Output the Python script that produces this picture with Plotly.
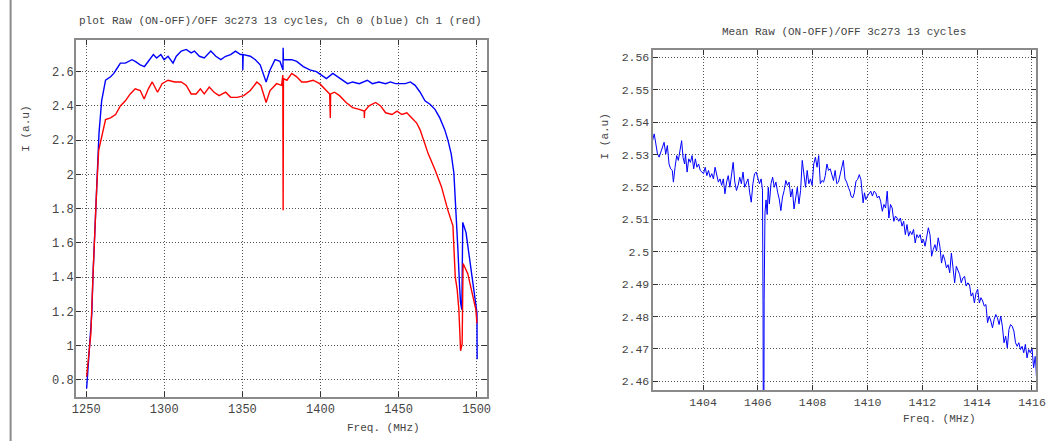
import plotly.graph_objects as go

# ---------------- Left panel: Ch 0 (blue) and Ch 1 (red) ----------------
CH0_FREQ = [1250.3, 1251.9, 1253.6, 1254.4, 1255.5, 1256.6, 1257.4, 1258.2, 1259.9, 1262.4,
            1265.6, 1267.7, 1269.8, 1271.9, 1275.1, 1277.2, 1279.3, 1281.4, 1284.6, 1287.3,
            1289.8, 1293.0, 1295.1, 1297.8, 1299.9, 1302.4, 1305.6, 1307.7, 1310.9, 1314.1,
            1317.2, 1319.3, 1322.5, 1325.6, 1329.8, 1333.0, 1336.2, 1339.3, 1342.5, 1345.6,
            1348.8, 1350.2, 1350.3, 1350.5, 1355.1, 1358.3, 1361.4, 1363.5, 1365.2, 1367.7,
            1370.9, 1374.1, 1376.0, 1376.1, 1376.3, 1378.5, 1381.6, 1384.8, 1389.0, 1393.2,
            1397.4, 1400.6, 1403.8, 1407.9, 1411.1, 1414.2, 1417.4, 1420.6, 1424.8, 1430.0,
            1433.2, 1437.4, 1441.7, 1444.8, 1448.0, 1451.1, 1454.3, 1457.5, 1460.6, 1463.8,
            1466.9, 1470.1, 1473.3, 1476.4, 1479.6, 1481.6, 1483.7, 1485.4, 1486.9, 1488.0,
            1489.1, 1489.7, 1490.5, 1491.1, 1493.2, 1495.4, 1497.4, 1498.9, 1500.2, 1500.3]
CH0_VAL = [0.75, 0.96, 1.19, 1.42, 1.66, 1.91, 2.07, 2.24, 2.43, 2.55,
           2.57, 2.59, 2.62, 2.65, 2.65, 2.66, 2.67, 2.66, 2.64, 2.63,
           2.66, 2.70, 2.68, 2.70, 2.67, 2.69, 2.65, 2.69, 2.72, 2.73,
           2.71, 2.72, 2.69, 2.68, 2.72, 2.69, 2.67, 2.69, 2.70, 2.72,
           2.70, 2.70, 2.61, 2.70, 2.69, 2.67, 2.64, 2.59, 2.54, 2.61,
           2.67, 2.66, 2.61, 2.74, 2.67, 2.67, 2.67, 2.66, 2.63, 2.61,
           2.60, 2.58, 2.56, 2.59, 2.57, 2.55, 2.53, 2.54, 2.53, 2.55,
           2.53, 2.54, 2.53, 2.54, 2.53, 2.53, 2.53, 2.54, 2.52, 2.48,
           2.43, 2.41, 2.38, 2.33, 2.26, 2.20, 2.12, 2.01, 1.79, 1.56,
           1.34, 1.25, 1.21, 1.72, 1.66, 1.52, 1.38, 1.27, 1.19, 0.92]

CH1_FREQ = [1250.3, 1253.0, 1254.4, 1255.7, 1256.8, 1258.0, 1259.9, 1262.4, 1265.6, 1268.8,
            1271.9, 1275.1, 1278.2, 1281.4, 1284.6, 1287.1, 1289.8, 1292.3, 1295.7, 1298.6,
            1302.4, 1306.7, 1310.9, 1314.1, 1317.2, 1320.4, 1323.1, 1325.6, 1328.8, 1331.9,
            1335.1, 1339.3, 1342.5, 1346.7, 1350.9, 1355.1, 1359.3, 1361.8, 1365.2, 1367.7,
            1371.9, 1375.1, 1375.9, 1376.1, 1376.3, 1378.5, 1381.6, 1384.8, 1388.0, 1391.1,
            1395.3, 1399.5, 1403.8, 1405.9, 1406.3, 1406.5, 1409.0, 1412.2, 1416.4, 1420.6,
            1424.8, 1428.0, 1428.1, 1428.3, 1431.1, 1435.3, 1438.5, 1441.7, 1445.8, 1449.0,
            1452.1, 1455.3, 1458.5, 1461.6, 1463.8, 1469.0, 1473.2, 1477.4, 1481.6, 1484.8,
            1486.3, 1487.5, 1488.6, 1489.7, 1490.7, 1491.3, 1494.3, 1497.4, 1499.5, 1500.2]
CH1_VAL = [0.82, 1.07, 1.42, 1.75, 1.93, 2.14, 2.22, 2.32, 2.33, 2.35,
           2.40, 2.43, 2.47, 2.50, 2.49, 2.44, 2.50, 2.54, 2.48, 2.53,
           2.55, 2.54, 2.54, 2.52, 2.47, 2.47, 2.50, 2.47, 2.51, 2.48,
           2.46, 2.48, 2.45, 2.45, 2.46, 2.49, 2.54, 2.52, 2.42, 2.49,
           2.53, 2.52, 2.58, 1.79, 2.56, 2.55, 2.59, 2.57, 2.54, 2.54,
           2.55, 2.53, 2.49, 2.47, 2.33, 2.47, 2.48, 2.46, 2.42, 2.39,
           2.38, 2.37, 2.33, 2.37, 2.40, 2.42, 2.40, 2.36, 2.35, 2.37,
           2.35, 2.36, 2.33, 2.30, 2.26, 2.12, 2.03, 1.93, 1.79, 1.70,
           1.40, 1.33, 1.21, 0.97, 1.01, 1.48, 1.42, 1.29, 1.21, 1.13]

LEFT_XTICKS = [1250, 1300, 1350, 1400, 1450, 1500]
LEFT_YTICKS = [0.8, 1.0, 1.2, 1.4, 1.6, 1.8, 2.0, 2.2, 2.4, 2.6]

# ---------------- Right panel: mean spectrum ----------------
MEAN_FREQ = [
    1402.16, 1402.22, 1402.28, 1402.34, 1402.40, 1402.46, 1402.52, 1402.58, 1402.64, 1402.70,
    1402.76, 1402.82, 1402.88, 1402.92, 1402.98, 1403.04, 1403.10, 1403.16, 1403.22, 1403.27,
    1403.33, 1403.36, 1403.42, 1403.48, 1403.54, 1403.60, 1403.66, 1403.72, 1403.78, 1403.84,
    1403.90, 1403.96, 1404.02, 1404.08, 1404.14, 1404.20, 1404.26, 1404.32, 1404.38, 1404.44,
    1404.50, 1404.56, 1404.62, 1404.68, 1404.74, 1404.80, 1404.86, 1404.92, 1404.98, 1405.04,
    1405.10, 1405.16, 1405.22, 1405.28, 1405.34, 1405.40, 1405.46, 1405.52, 1405.58, 1405.64,
    1405.70, 1405.76, 1405.82, 1405.88, 1405.94, 1406.00, 1406.06, 1406.12, 1406.17, 1406.19,
    1406.21, 1406.23, 1406.26, 1406.30, 1406.34, 1406.38, 1406.42, 1406.48, 1406.54, 1406.60,
    1406.66, 1406.72, 1406.78, 1406.84, 1406.90, 1406.96, 1407.02, 1407.08, 1407.14, 1407.20,
    1407.26, 1407.32, 1407.38, 1407.44, 1407.50, 1407.56, 1407.62, 1407.68, 1407.74, 1407.80,
    1407.86, 1407.92, 1407.98, 1408.04, 1408.10, 1408.16, 1408.22, 1408.28, 1408.34, 1408.40,
    1408.46, 1408.52, 1408.58, 1408.64, 1408.70, 1408.76, 1408.82, 1408.88, 1408.94, 1409.00,
    1409.06, 1409.12, 1409.18, 1409.24, 1409.30, 1409.36, 1409.40, 1409.46, 1409.52, 1409.58,
    1409.64, 1409.70, 1409.76, 1409.80, 1409.84, 1409.89, 1409.94, 1410.00, 1410.06, 1410.12,
    1410.18, 1410.24, 1410.30, 1410.36, 1410.42, 1410.48, 1410.54, 1410.60, 1410.66, 1410.72,
    1410.78, 1410.84, 1410.90, 1410.96, 1411.02, 1411.08, 1411.14, 1411.20, 1411.26, 1411.32,
    1411.38, 1411.44, 1411.50, 1411.56, 1411.62, 1411.68, 1411.74, 1411.80, 1411.86, 1411.92,
    1411.98, 1412.04, 1412.10, 1412.16, 1412.22, 1412.28, 1412.34, 1412.40, 1412.46, 1412.52,
    1412.58, 1412.64, 1412.70, 1412.76, 1412.82, 1412.88, 1412.94, 1413.00, 1413.06, 1413.12,
    1413.18, 1413.24, 1413.30, 1413.36, 1413.42, 1413.48, 1413.54, 1413.60, 1413.66, 1413.72,
    1413.78, 1413.84, 1413.90, 1413.96, 1414.02, 1414.08, 1414.14, 1414.20, 1414.26, 1414.32,
    1414.38, 1414.44, 1414.50, 1414.56, 1414.62, 1414.68, 1414.74, 1414.80, 1414.86, 1414.92,
    1414.98, 1415.04, 1415.10, 1415.16, 1415.22, 1415.28, 1415.34, 1415.40, 1415.46, 1415.52,
    1415.58, 1415.64, 1415.70, 1415.76, 1415.82, 1415.88, 1415.94, 1416.00, 1416.06, 1416.12,
    1416.16]
MEAN_VAL = [
    2.5343, 2.5364, 2.5333, 2.5302, 2.5292, 2.5307, 2.5323, 2.5338, 2.5302, 2.5328,
    2.5271, 2.5256, 2.5251, 2.5215, 2.5261, 2.5297, 2.5282, 2.5312, 2.5343, 2.5292,
    2.5271, 2.5302, 2.5246, 2.5287, 2.5276, 2.5297, 2.5256, 2.5287, 2.5261, 2.5271,
    2.5251, 2.5246, 2.5241, 2.5261, 2.5235, 2.5251, 2.5230, 2.5241, 2.5225, 2.5261,
    2.5235, 2.5215, 2.5225, 2.5205, 2.5225, 2.5179, 2.5215, 2.5235, 2.5199, 2.5235,
    2.5276, 2.5215, 2.5189, 2.5205, 2.5230, 2.5210, 2.5246, 2.5199, 2.5215, 2.5225,
    2.5184, 2.5153, 2.5210, 2.5241, 2.5246, 2.5225, 2.5210, 2.5225, 2.5190, 2.4820,
    2.4000, 2.4850, 2.5120, 2.5160, 2.5115, 2.5199, 2.5148, 2.5210, 2.5230, 2.5199,
    2.5215, 2.5184, 2.5163, 2.5127, 2.5169, 2.5189, 2.5220, 2.5205, 2.5215, 2.5169,
    2.5194, 2.5132, 2.5163, 2.5199, 2.5148, 2.5189, 2.5282, 2.5230, 2.5199, 2.5251,
    2.5210, 2.5225, 2.5205, 2.5271, 2.5292, 2.5261, 2.5297, 2.5210, 2.5220, 2.5215,
    2.5235, 2.5271, 2.5251, 2.5256, 2.5241, 2.5220, 2.5251, 2.5210, 2.5215, 2.5241,
    2.5256, 2.5282, 2.5225, 2.5215, 2.5199, 2.5187, 2.5172, 2.5166, 2.5182, 2.5218,
    2.5223, 2.5238, 2.5223, 2.5172, 2.5151, 2.5182, 2.5161, 2.5172, 2.5182, 2.5187,
    2.5172, 2.5187, 2.5182, 2.5166, 2.5172, 2.5156, 2.5125, 2.5146, 2.5135, 2.5187,
    2.5104, 2.5146, 2.5135, 2.5094, 2.5110, 2.5104, 2.5094, 2.5104, 2.5079, 2.5094,
    2.5053, 2.5084, 2.5048, 2.5063, 2.5053, 2.5069, 2.5027, 2.5053, 2.5043, 2.5053,
    2.5027, 2.5038, 2.5017, 2.5048, 2.5074, 2.5053, 2.4986, 2.5007, 2.5022, 2.5002,
    2.5043, 2.5017, 2.4965, 2.4991, 2.4975, 2.4950, 2.4960, 2.4935, 2.4996, 2.4950,
    2.4904, 2.4955, 2.4945, 2.4930, 2.4904, 2.4919, 2.4924, 2.4894, 2.4904, 2.4899,
    2.4863, 2.4873, 2.4842, 2.4873, 2.4884, 2.4842, 2.4858, 2.4848, 2.4832, 2.4837,
    2.4781, 2.4801, 2.4786, 2.4765, 2.4791, 2.4806, 2.4796, 2.4775, 2.4801, 2.4770,
    2.4719, 2.4739, 2.4703, 2.4760, 2.4775, 2.4770, 2.4755, 2.4719, 2.4708, 2.4719,
    2.4698, 2.4708, 2.4688, 2.4714, 2.4672, 2.4698, 2.4688, 2.4703, 2.4642, 2.4677,
    2.4616]

RIGHT_XTICKS = [1404, 1406, 1408, 1410, 1412, 1414, 1416]
RIGHT_YTICKS = [2.46, 2.47, 2.48, 2.49, 2.50, 2.51, 2.52, 2.53, 2.54, 2.55, 2.56]

LEFT_TITLE = "plot Raw (ON-OFF)/OFF 3c273 13 cycles, Ch 0 (blue) Ch 1 (red)"
RIGHT_TITLE = "Mean Raw (ON-OFF)/OFF 3c273 13 cycles"
X_TITLE = "Freq. (MHz)"
Y_TITLE = "I (a.u)"

W, H = 1054, 441
FONT = "Liberation Mono, Courier New, monospace"
TXT = "#444444"

fig = go.Figure()
fig.add_trace(go.Scatter(x=CH0_FREQ, y=CH0_VAL, mode="lines",
                         line=dict(color="#0000ff", width=1.4), xaxis="x", yaxis="y",
                         name="Ch 0"))
fig.add_trace(go.Scatter(x=CH1_FREQ, y=CH1_VAL, mode="lines",
                         line=dict(color="#ff0000", width=1.4), xaxis="x", yaxis="y",
                         name="Ch 1"))
fig.add_trace(go.Scatter(x=MEAN_FREQ, y=MEAN_VAL, mode="lines",
                         line=dict(color="#0000ff", width=1), xaxis="x2", yaxis="y2",
                         name="Mean"))


def axis_style(size, standoff, **kw):
    d = dict(showgrid=True, gridcolor="#555555", gridwidth=1, griddash="1px,2px",
             showline=True, linecolor="#8a8a8a", linewidth=2, mirror="ticks",
             ticks="inside", ticklen=5, tickwidth=1, tickcolor="#333333",
             zeroline=False, tickfont=dict(family=FONT, size=size, color=TXT),
             ticklabelstandoff=standoff)
    d.update(kw)
    return d


fig.update_layout(
    width=W, height=H,
    margin=dict(l=0, r=0, t=0, b=0),
    paper_bgcolor="white", plot_bgcolor="white",
    showlegend=False, hovermode=False,
    xaxis=axis_style(12, 0, domain=[73 / W, 489 / W], range=[1243.5, 1506.3],
                     tickvals=LEFT_XTICKS, anchor="y"),
    yaxis=axis_style(12, -2, domain=[1 - 397 / H, 1 - 40 / H], range=[0.70, 2.785],
                     tickvals=LEFT_YTICKS, anchor="x"),
    xaxis2=axis_style(11.5, 0, domain=[657.3 / W, 1045.7 / W], range=[1402.16, 1416.14],
                      tickvals=RIGHT_XTICKS, anchor="y2"),
    yaxis2=axis_style(11.5, -1, domain=[1 - 390 / H, 1 - 50 / H], range=[2.4573, 2.5623],
                      tickvals=RIGHT_YTICKS, anchor="x2"),
)

ann_font_title = dict(family=FONT, size=11, color=TXT)
annotations = [
    dict(text=LEFT_TITLE, x=280.5 / W, y=1 - 20.7 / H, xref="paper", yref="paper",
         showarrow=False, font=ann_font_title, xanchor="center", yanchor="middle"),
    dict(text=RIGHT_TITLE, x=851 / W, y=1 - 32 / H, xref="paper", yref="paper",
         showarrow=False, font=ann_font_title, xanchor="center", yanchor="middle"),
    dict(text=X_TITLE, x=384.5 / W, y=1 - 427.7 / H, xref="paper", yref="paper",
         showarrow=False, font=ann_font_title, xanchor="center", yanchor="middle"),
    dict(text=X_TITLE, x=948 / W, y=1 - 419.3 / H, xref="paper", yref="paper",
         showarrow=False, font=ann_font_title, xanchor="center", yanchor="middle"),
    dict(text=Y_TITLE, x=22 / W, y=1 - 129 / H, xref="paper", yref="paper",
         showarrow=False, font=ann_font_title, textangle=-90,
         xanchor="center", yanchor="middle"),
    dict(text=Y_TITLE, x=609 / W, y=1 - 136.5 / H, xref="paper", yref="paper",
         showarrow=False, font=ann_font_title, textangle=-90,
         xanchor="center", yanchor="middle"),
]
fig.update_layout(annotations=annotations)

fig.add_shape(type="line", xref="paper", yref="paper", x0=6.7 / W, x1=6.7 / W,
              y0=0, y1=1, line=dict(color="#8a8a8a", width=2))

fig.write_html(
    "out.html",
    config={"displayModeBar": False, "staticPlot": True},
    post_script="document.body.style.margin='0';document.body.style.padding='0';"
                "document.body.style.overflow='hidden';",
)
